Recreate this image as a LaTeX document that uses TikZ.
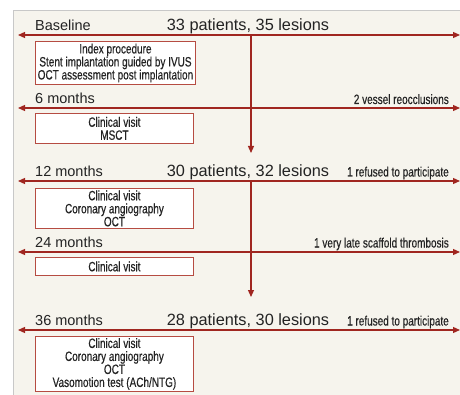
\documentclass[tikz,border=0pt]{standalone}
\usepackage{fontspec}
\setmainfont{Liberation Sans}
\newfontfamily\condfont[FakeStretch=0.74,FakeBold=0.4]{Liberation Sans}
\usetikzlibrary{arrows.meta}
\definecolor{bgbeige}{RGB}{246,244,237}
\definecolor{frameg}{RGB}{200,200,200}
\definecolor{linered}{RGB}{160,38,32}
\definecolor{boxred}{RGB}{182,76,66}
\definecolor{txt}{RGB}{35,35,35}
\tikzset{
  tl/.style={draw=linered, line width=1.2pt, {Triangle[length=7pt,width=6pt]}-{Triangle[length=7pt,width=6pt]}},
  dl/.style={draw=linered, line width=1.2pt, -{Triangle[length=7pt,width=6pt]}},
  lbl/.style={anchor=base west, inner sep=0pt, text=txt, font=\fontsize{14.5}{16}\selectfont},
  cnt/.style={anchor=base, inner sep=0pt, text=txt, font=\fontsize{16.3}{18}\selectfont},
  note/.style={anchor=base east, inner sep=0pt, text=txt, font=\condfont\fontsize{13.5}{13}\selectfont},
  box/.style={draw=boxred, line width=0.9pt, fill=white, anchor=north west, inner sep=0pt, align=center, text=txt, font=\condfont\fontsize{13.5}{13}\selectfont}
}
\begin{document}
\begin{tikzpicture}[x=1pt,y=-1pt]
\useasboundingbox (0,0) rectangle (460,395);
\fill[white] (0,0) rectangle (460,395);
\fill[bgbeige] (13,10) rectangle (460,395);
\draw[frameg, line width=0.8pt] (13,395) -- (13,10) -- (460,10);
% coordinates for timeline arrows
\coordinate (l0) at (18,35);  \coordinate (r0) at (460,35);
\coordinate (l1) at (18,108); \coordinate (r1) at (460,108);
\coordinate (l2) at (18,181); \coordinate (r2) at (460,181);
\coordinate (l3) at (18,252); \coordinate (r3) at (460,252);
\coordinate (l4) at (18,330); \coordinate (r4) at (460,330);
\coordinate (v0) at (251,35);  \coordinate (v1) at (251,153);
\coordinate (v2) at (251,181); \coordinate (v3) at (251,297);
\draw[dl] (v0) -- (v1);
\draw[dl] (v2) -- (v3);
\draw[tl] (l0) -- (r0);
\draw[tl] (l1) -- (r1);
\draw[tl] (l2) -- (r2);
\draw[tl] (l3) -- (r3);
\draw[tl] (l4) -- (r4);
% labels
\node[lbl] (t0) at (35,30.5) {Baseline};
\node[cnt] (c0) at (248,30.5) {33 patients, 35 lesions};
\node[lbl] (t1) at (35,103.5) {6 months};
\node[note] (n1) at (449,104) {2 vessel reocclusions};
\node[lbl] (t2) at (35,176.5) {12 months};
\node[cnt] (c2) at (248,176.5) {30 patients, 32 lesions};
\node[note] (n2) at (449,176.5) {1 refused to participate};
\node[lbl] (t3) at (35,247.5) {24 months};
\node[note] (n3) at (449,247.5) {1 very late scaffold thrombosis};
\node[lbl] (t4) at (35,325.5) {36 months};
\node[cnt] (c4) at (248,325.5) {28 patients, 30 lesions};
\node[note] (n4) at (449,325.5) {1 refused to participate};
% boxes
\node[box, minimum width=160pt, minimum height=43pt] (b0) at (35,41) {Index procedure\\Stent implantation guided by IVUS\\OCT assessment post implantation};
\node[box, minimum width=158pt, minimum height=30pt] (b1) at (35,113) {Clinical visit\\MSCT};
\node[box, minimum width=158pt, minimum height=40pt] (b2) at (35,188) {Clinical visit\\Coronary angiography\\OCT};
\node[box, minimum width=158pt, minimum height=18pt] (b3) at (35,257) {Clinical visit};
\node[box, minimum width=158pt, minimum height=55pt] (b4) at (35,336) {Clinical visit\\Coronary angiography\\OCT\\Vasomotion test (ACh/NTG)};
\end{tikzpicture}
\end{document}
